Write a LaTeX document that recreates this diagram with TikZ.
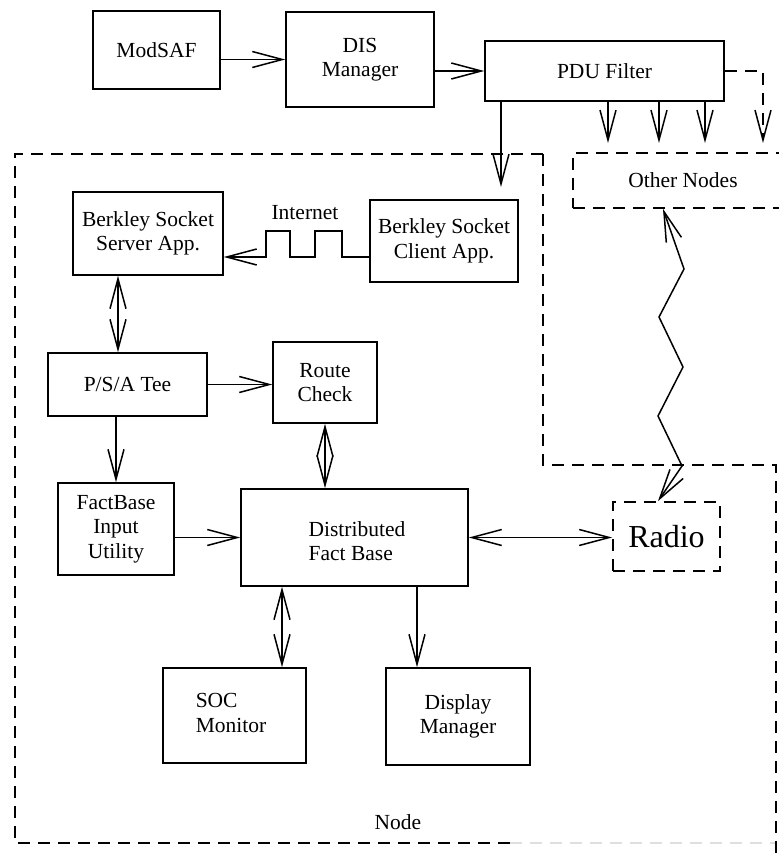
\documentclass[tikz,border=0pt]{standalone}
\usepackage{fontspec}
\setmainfont{Liberation Serif}
\usetikzlibrary{arrows.meta}
\begin{document}
\begin{tikzpicture}[x=1pt,y=-1pt,
  box/.style={draw,line width=1.6pt,inner sep=0pt,align=center,font=\fontsize{21.5}{24.5}\selectfont},
  dbox/.style={box,dash pattern=on 12pt off 8pt,line width=1.8pt},
  lbl/.style={inner sep=0pt,font=\fontsize{21.5}{24.5}\selectfont},
  arr/.style={line width=1.5pt,-{Straight Barb[length=30pt,width=16pt,line width=1.5pt]}},
  darr/.style={line width=1.5pt,{Straight Barb[length=30pt,width=16pt,line width=1.5pt]}-{Straight Barb[length=30pt,width=16pt,line width=1.5pt]}},
  bound/.style={line width=1.8pt,dash pattern=on 12pt off 8pt}]
\useasboundingbox (0,0) rectangle (778,858);

% boxes
\node[box,minimum width=127pt,minimum height=78pt] (modsaf) at (156.5,50) {ModSAF};
\node[box,minimum width=148pt,minimum height=95pt] (dis) at (360,59.5) {DIS\\Manager};
\node[box,minimum width=239pt,minimum height=60pt] (pdu) at (604.5,71) {PDU Filter};
\node[dbox,minimum width=220pt,minimum height=55pt] (other) at (683,180.5) {Other Nodes};
\node[box,minimum width=150pt,minimum height=83pt] (server) at (148,233.5) {Berkley Socket\\Server App.};
\node[box,minimum width=148pt,minimum height=82pt] (client) at (444,241) {Berkley Socket\\Client App.};
\node[box,minimum width=159pt,minimum height=63pt] (psa) at (127.5,384.5) {P/S/A Tee};
\node[box,minimum width=104pt,minimum height=81pt] (route) at (325,382.5) {Route\\Check};
\node[box,minimum width=116pt,minimum height=92pt] (fbiu) at (116,529) {FactBase\\Input\\Utility};
\node[box,minimum width=227pt,minimum height=97pt] (dfb) at (354.5,537.5) {};
\node[lbl,align=left] (dfbt) at (357,541) {Distributed\\Fact Base};
\node[dbox,minimum width=107pt,minimum height=69pt,font=\fontsize{32}{36}\selectfont] (radio) at (666.5,536.5) {Radio};
\node[box,minimum width=143pt,minimum height=95pt] (soc) at (234.5,715.5) {};
\node[lbl,align=left] (soct) at (231,713) {SOC\\Monitor};
\node[box,minimum width=144pt,minimum height=97pt] (disp) at (458,716.5) {Display\\Manager};
\node[lbl] (internet) at (305,213) {Internet};
\node[lbl] (nodelbl) at (398,822) {Node};

% node boundary
\draw[bound] (543,154) -- (15,154) -- (15,843) -- (510,843);
\draw[bound,gray!25] (510,843) -- (776,843);
\draw[bound] (543,154) -- (543,465) -- (776,465) -- (776,858);

% coordinates
\coordinate (pduin) at (501,187);
\coordinate (c1) at (608,143);
\coordinate (c2) at (659,143);
\coordinate (c3) at (705,143);
\coordinate (c4) at (763,143);
\coordinate (i0) at (300,257);
\coordinate (a1) at (118,300);
\coordinate (b1) at (282,600);
\coordinate (b2) at (417,600);
\coordinate (z0) at (663,208);
\coordinate (z6) at (658,502);

% connectors
\draw[arr] (modsaf.east |- dis.west) -- (dis.west);
\draw[arr] (dis.east |- pdu.west) -- (pdu.west);
\draw[arr] (pdu.south -| pduin) -- (pduin);
\draw[arr] (pdu.south -| c1) -- (c1);
\draw[arr] (pdu.south -| c2) -- (c2);
\draw[arr] (pdu.south -| c3) -- (c3);
\draw[arr,dash pattern=on 12pt off 8pt] (pdu.east) -| (c4);
\draw[arr] (client.west |- i0) -- (342,257) -- (342,231) -- (315,231) -- (315,257)
  -- (290,257) -- (290,231) -- (266,231) -- (266,257) -- (server.east |- i0);
\draw[darr] (server.south -| a1) -- (psa.north -| a1);
\draw[arr] (psa.east) -- (route.west |- psa.east);
\draw[arr] (psa.south -| fbiu.north) -- (fbiu.north);
\draw[arr] (fbiu.east |- dfb.west) -- (dfb.west);
\draw[darr] (route.south) -- (route.south |- dfb.north);
\draw[darr] (dfb.east) -- (radio.west |- dfb.east);
\draw[darr] (dfb.south -| b1) -- (soc.north -| b1);
\draw[arr] (dfb.south -| b2) -- (disp.north -| b2);
\draw[darr] (other.south -| z0) -- (684,269) -- (659,317) -- (683,367) -- (658,416) -- (682,466) -- (radio.north -| z6);
\end{tikzpicture}
\end{document}
